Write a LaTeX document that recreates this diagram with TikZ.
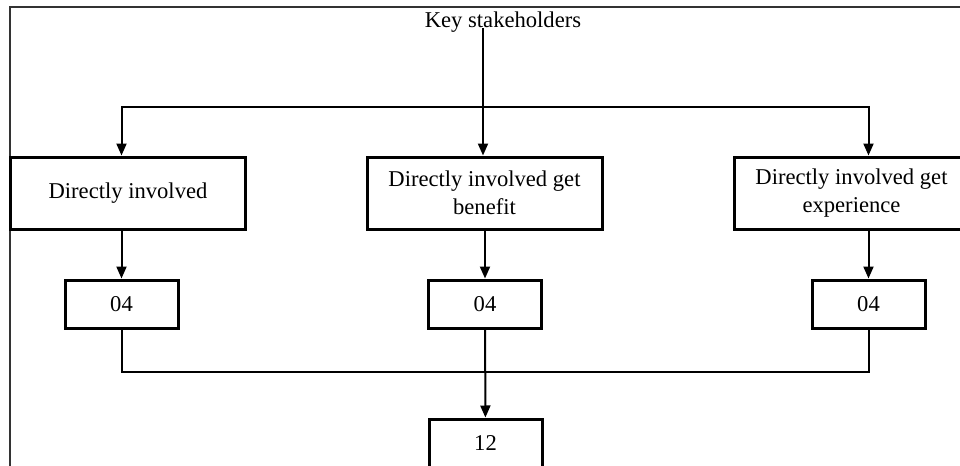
\documentclass[tikz,border=0pt]{standalone}
\usepackage{fontspec}
\setmainfont{Liberation Serif}
\usetikzlibrary{arrows.meta}
\tikzset{
  bigbox/.style={draw, line width=1.5pt, minimum width=117.5pt, minimum height=36pt, align=center, inner sep=2pt},
  smallbox/.style={draw, line width=1.5pt, minimum width=56.5pt, minimum height=24pt, inner sep=2pt},
  link/.style={line width=1pt, color=black},
  arrowlink/.style={-{Triangle[length=6pt, width=5pt]}, line width=1pt, color=black},
  thinlink/.style={line width=0.6pt, color=black},
  frame/.style={line width=0.75pt, color=black!80},
  every node/.append style={font=\fontsize{11.3}{14}\selectfont}
}
\begin{document}
\begin{tikzpicture}[x=0.5pt, y=-0.5pt]
\useasboundingbox (0,0) rectangle (960,466);
\draw[frame] (10,480) -- (10,7) -- (970,7);
% title and branch points
\node (key) at (503,22) {Key stakeholders};
\coordinate (keyfoot) at (483,28);
\coordinate (top) at (483,107);
\coordinate (bot) at (485,372);
% first row
\node[bigbox] (box1) at (128,193) {Directly involved};
\node[bigbox] (box2) at (484.5,193) {Directly involved get\\benefit};
\node[bigbox] (box3) at (851.5,193) {Directly involved get\\experience};
% counts
\node[smallbox] (sub1) at (121.5,304) {04};
\node[smallbox] (sub2) at (485,304) {04};
\node[smallbox] (sub3) at (868.5,304) {04};
\node[smallbox] (total) at (485.5,443) {12};
% connectors
\draw[thinlink] (keyfoot) -- (top);
\draw[arrowlink] (top) -| (box1.north -| sub1);
\draw[arrowlink] (top) -| (box3.north -| sub3);
\draw[arrowlink] (top) -- (box2.north -| top);
\draw[arrowlink] (box1.south -| sub1) -- (sub1);
\draw[arrowlink] (box2.south -| sub2) -- (sub2);
\draw[arrowlink] (box3.south -| sub3) -- (sub3);
\draw[link] (sub1) |- (bot) -| (sub3);
\draw[arrowlink] (sub2) -- (total);
\end{tikzpicture}
\end{document}
